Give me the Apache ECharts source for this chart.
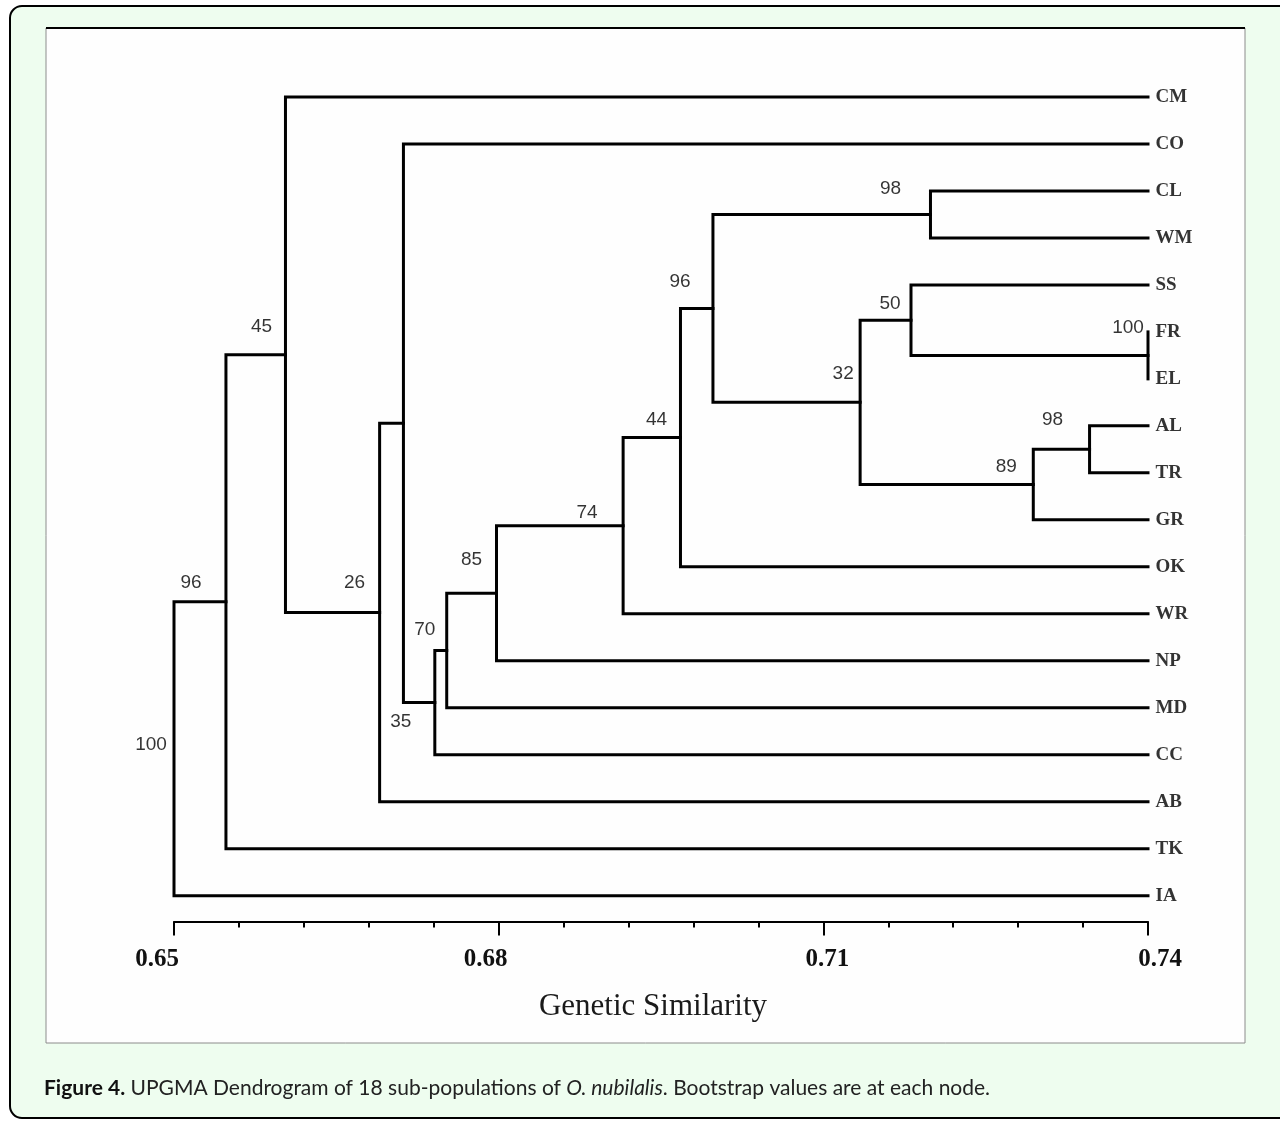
<!DOCTYPE html>
<html><head><meta charset="utf-8">
<script src="https://cdn.jsdelivr.net/npm/echarts@6/dist/echarts.min.js"></script>
<style>html,body{margin:0;padding:0;background:#fff;}#chart{width:1280px;height:1124px;}</style>
</head><body><div id="chart"></div>
<script>
// Leaves, top to bottom
const leaves = ['CM','CO','CL','WM','SS','FR','EL','AL','TR','GR','OK','WR','NP','MD','CC','AB','TK','IA'];
const leafEnd = 0.74;
// UPGMA merges (in joining order)
const mergeIds        = ['n1','n2','n3','n4','n5','n6','n7','n8','n9','n10','n11','n12','n13','n14','n15','n16','n17'];
const mergeLeft       = ['FR','AL','n2','SS','n4','CL','n6','n7','n8','n9','n10','n11','CO','n13','CM','n15','n16'];
const mergeRight      = ['EL','TR','GR','n1','n3','WM','n5','OK','WR','NP','MD','CC','n12','AB','n14','TK','IA'];
const mergeSimilarity = [0.7400,0.7346,0.7294,0.7181,0.7134,0.7199,0.6998,0.6968,0.6915,0.6798,0.6752,0.6741,0.6712,0.6690,0.6603,0.6548,0.6500];
const bootstrap       = [100,98,89,50,32,98,96,44,74,85,70,35,null,26,45,96,100];
const xTicks = [0.65,0.68,0.71,0.74];
// label placement (pixels, relative to node / tick)
const bootstrapLabelOffset = {
  n1:[-20,-28], n2:[-37,-30], n3:[-27,-18], n4:[-21,-16], n5:[-17,-29], n6:[-40,-26],
  n7:[-33,-27], n8:[-24,-18], n9:[-36,-13], n10:[-25,-33], n11:[-22,-21], n12:[-34,19],
  n14:[-25,-30], n15:[-24,-28], n16:[-35,-19], n17:[-23,-4]
};
const tickLabelPadding = {'0.65':[0,34,0,0], '0.68':[0,26,0,0], '0.71':[0,0,0,8], '0.74':[0,0,0,24]};

const pos = {};
leaves.forEach((n,i)=>{ pos[n] = {x: leafEnd, y: i}; });
const treePaths = [];
const bsData = [];
mergeIds.forEach((id,k)=>{
  const a = pos[mergeLeft[k]], b = pos[mergeRight[k]];
  const x = mergeSimilarity[k];
  pos[id] = {x: x, y: (a.y + b.y) / 2};
  treePaths.push({coords: [[a.x, a.y],[x, a.y],[x, b.y],[b.x, b.y]]});
  if (bootstrap[k] !== null) {
    bsData.push({value: [x, pos[id].y, String(bootstrap[k])], label: {offset: bootstrapLabelOffset[id]}});
  }
});

const tickRich = {};
Object.keys(tickLabelPadding).forEach((k,i)=>{
  tickRich['t'+i] = {fontFamily:'Liberation Serif', fontWeight:'bold', fontSize:25, color:'#111', padding: tickLabelPadding[k]};
});

const chart = echarts.init(document.getElementById('chart'), null, {renderer: 'canvas'});
chart.setOption({
  backgroundColor: '#ffffff',
  animation: false,
  graphic: [
    {type:'rect', z:-20, shape:{x:10,y:6,width:1320,height:1112,r:12}, style:{fill:'#eefdef', stroke:'#000', lineWidth:2}},
    {type:'rect', z:-19, shape:{x:46,y:28,width:1199,height:1015}, style:{fill:'#fefefe', stroke:'#8c8c8c', lineWidth:1}},
    {type:'line', z:-18, shape:{x1:46,y1:28,x2:1245,y2:28}, style:{stroke:'#000', lineWidth:2}},
    {type:'text', z:-18, left:44, top:1078, style:{
      text:'{b|Figure 4.} UPGMA Dendrogram of 18 sub-populations of {i|O. nubilalis}. Bootstrap values are at each node.',
      font:'21px Lato', fill:'#222',
      rich:{ b:{fontWeight:'bold', fontSize:21, fontFamily:'Lato', fill:'#111'}, i:{fontStyle:'italic', fontSize:21, fontFamily:'Lato', fill:'#222'} }
    }}
  ],
  grid: {left:174, right:132, top:73.5, bottom:202.5, containLabel:false},
  xAxis: {
    type:'value', position:'bottom', min:0.65, max:0.74, interval:0.03,
    name:'Genetic Similarity', nameLocation:'middle', nameGap:70,
    nameTextStyle:{fontFamily:'Liberation Serif', fontSize:31, color:'#1a1a1a', padding:[0,16,0,0]},
    axisLine:{show:true, onZero:false, lineStyle:{color:'#000', width:2}},
    axisTick:{show:true, length:14, lineStyle:{color:'#000', width:2}},
    minorTick:{show:true, splitNumber:5, length:6, lineStyle:{color:'#000', width:2}},
    splitLine:{show:false},
    axisLabel:{margin:26, customValues: xTicks,
      formatter:v=>{ const s=v.toFixed(2); const i=Object.keys(tickLabelPadding).indexOf(s); return i>=0 ? '{t'+i+'|'+s+'}' : s; },
      fontFamily:'Liberation Serif', fontWeight:'bold', fontSize:25, color:'#111', rich: tickRich}
  },
  yAxis: {type:'value', min:-0.5, max:17.55, inverse:true, show:false},
  series: [
    {type:'lines', coordinateSystem:'cartesian2d', polyline:true, silent:true,
     lineStyle:{color:'#000', width:3, opacity:1, join:'miter', cap:'square'}, data: treePaths, z:3},
    {type:'scatter', symbolSize:1, itemStyle:{color:'rgba(0,0,0,0)'}, silent:true, z:4,
     data: leaves.map((n,i)=>[leafEnd, i, n]),
     label:{show:true, position:'right', distance:7, formatter:p=>p.data[2],
       fontFamily:'Liberation Serif', fontWeight:'bold', fontSize:19, color:'#000'}},
    {type:'scatter', symbolSize:1, itemStyle:{color:'rgba(0,0,0,0)'}, silent:true, z:4,
     data: bsData,
     label:{show:true, position:'inside', formatter:p=>p.value[2],
       fontFamily:'Liberation Sans', fontSize:19, color:'#000'}}
  ]
});
</script></body></html>
